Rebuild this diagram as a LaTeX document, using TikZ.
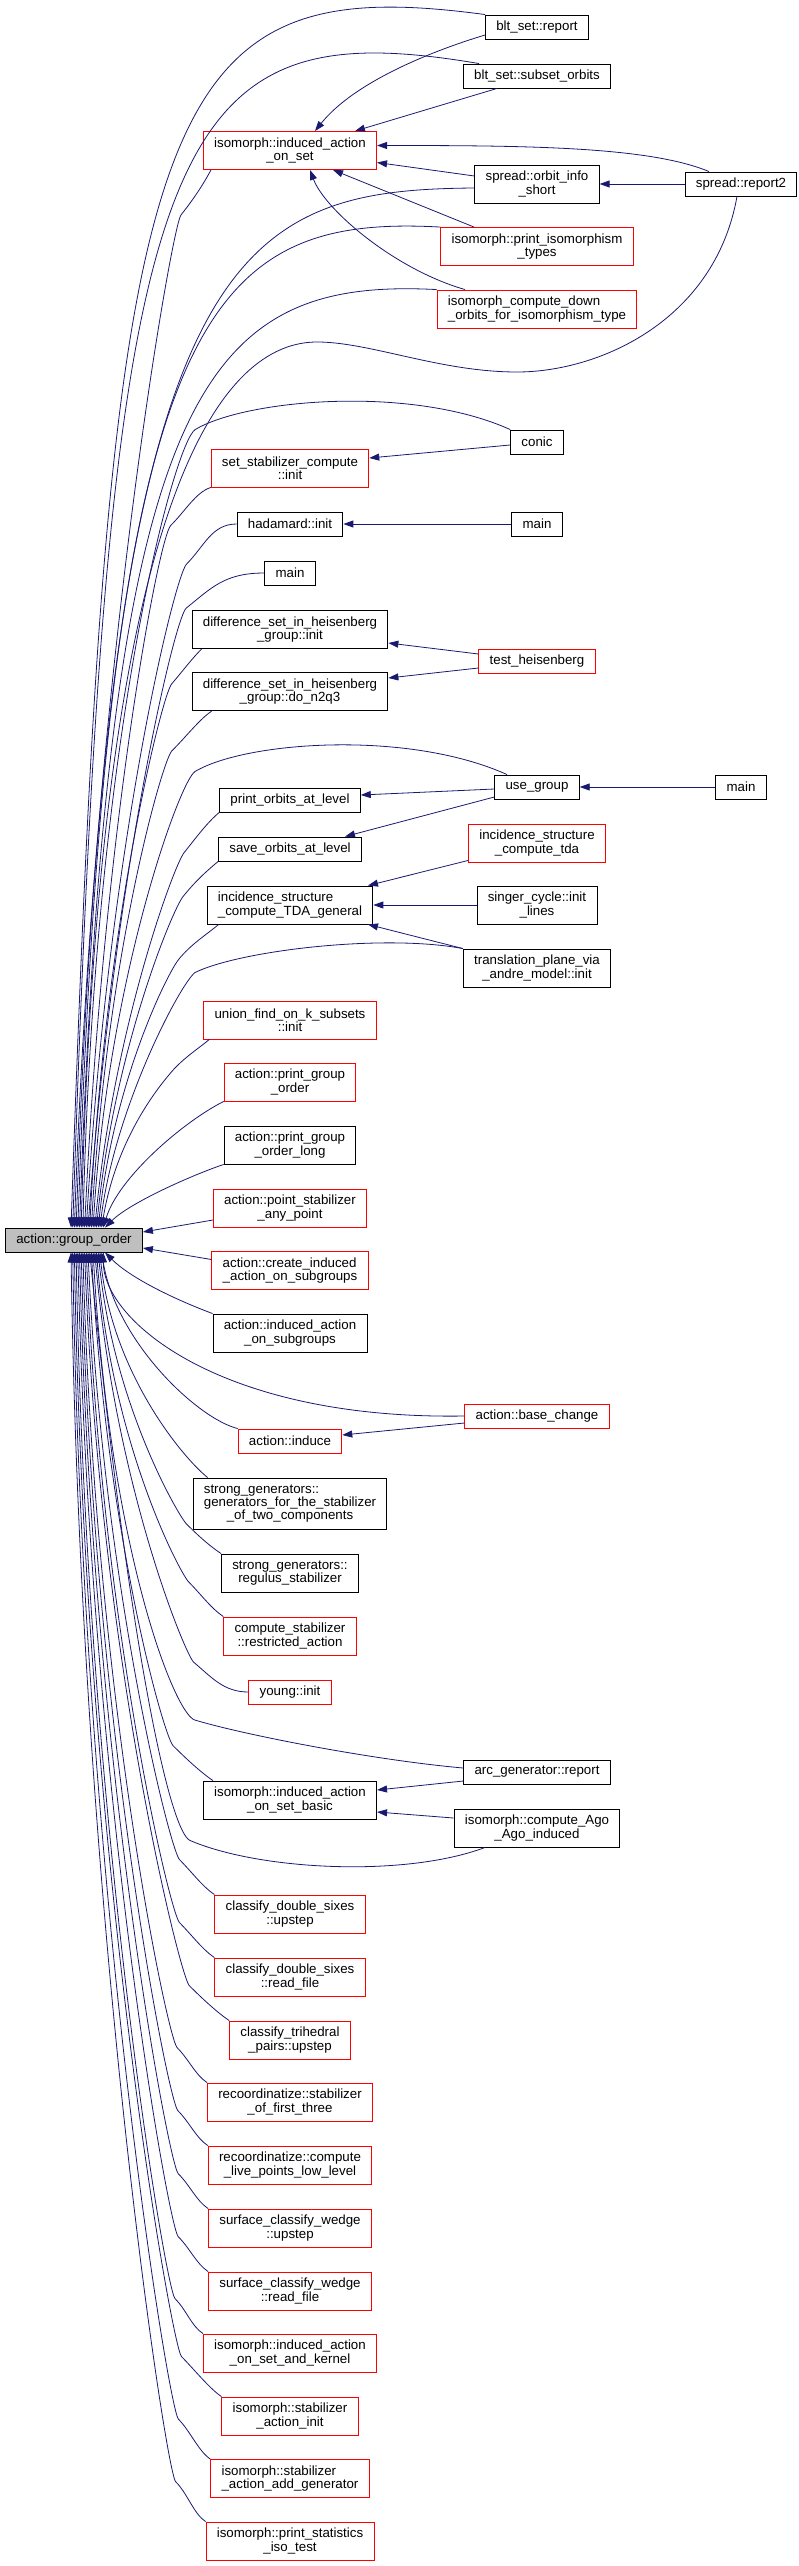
\documentclass[tikz,border=0pt]{standalone}
\usepackage{fontspec}
\setmainfont{Liberation Sans}
\usepackage{calc}
\usepackage{tikz}
\usetikzlibrary{arrows.meta}
\definecolor{edgeblue}{HTML}{191970}
\definecolor{rootgray}{HTML}{BFBFBF}

\begin{document}
\begin{tikzpicture}[x=1pt,y=-1pt,
  fn/.style={draw=black,line width=0.9pt,inner xsep=10.8pt,inner ysep=0pt,minimum height=24pt,
    font=\fontsize{13.3}{13.3}\selectfont,align=center},
  two/.style={minimum height=38pt},
  trunc/.style={draw=red},
  call/.style={draw=edgeblue,line width=0.8pt,-{Triangle[length=10pt,width=7pt]}}]
\useasboundingbox (0,0) rectangle (799,2566);

\node[fn] (bltr) at (537,27) {blt\_set::report};
\node[fn] (blts) at (537,76) {blt\_set::subset\_orbits};
\node[fn,two,trunc] (iaos) at (290,150.5) {isomorph::induced\_action\\\_on\_set};
\node[fn,two] (sois) at (537,184) {spread::orbit\_info\\\_short};
\node[fn] (sr2) at (741,184) {spread::report2};
\node[fn,two,trunc] (pit) at (537,246.5) {isomorph::print\_isomorphism\\\_types};
\node[fn,two,trunc,align=left] (icd) at (537,309) {isomorph\_compute\_down\\\_orbits\_for\_isomorphism\_type};
\node[fn] (conic) at (537,442) {conic};
\node[fn,two,trunc] (ssc) at (290,468) {set\_stabilizer\_compute\\::init};
\node[fn] (had) at (290,524) {hadamard::init};
\node[fn] (hmain) at (537,524) {main};
\node[fn] (main) at (290,573) {main};
\node[fn,two] (dsi) at (290,629.5) {difference\_set\_in\_heisenberg\\\_group::init};
\node[fn,trunc] (th) at (537,661) {test\_heisenberg};
\node[fn,two] (dsd) at (290,691.7) {difference\_set\_in\_heisenberg\\\_group::do\_n2q3};
\node[fn] (ug) at (537,787) {use\_group};
\node[fn] (ugmain) at (741,787) {main};
\node[fn] (pol) at (290,800) {print\_orbits\_at\_level};
\node[fn] (sol) at (290,849) {save\_orbits\_at\_level};
\node[fn,two,trunc] (ict) at (537,843) {incidence\_structure\\\_compute\_tda};
\node[fn,two,align=left] (tda) at (290,905) {incidence\_structure\\\_compute\_TDA\_general};
\node[fn,two] (sci) at (537,905) {singer\_cycle::init\\\_lines};
\node[fn,two] (tpa) at (537,968) {translation\_plane\_via\\\_andre\_model::init};
\node[fn,two,trunc] (uf) at (290,1020) {union\_find\_on\_k\_subsets\\::init};
\node[fn,two,trunc] (apgo) at (290,1082) {action::print\_group\\\_order};
\node[fn,two] (apgol) at (290,1145) {action::print\_group\\\_order\_long};
\node[fn,two,trunc] (aps) at (290,1208) {action::point\_stabilizer\\\_any\_point};
\node[fn,fill=rootgray] (g) at (74,1240) {action::group\_order};
\node[fn,two,trunc,align=left] (acia) at (290,1270.5) {action::create\_induced\\\_action\_on\_subgroups};
\node[fn,two] (aias) at (290,1333) {action::induced\_action\\\_on\_subgroups};
\node[fn,trunc] (abc) at (537,1416) {action::base\_change};
\node[fn,trunc] (ai) at (290,1441) {action::induce};
\node[fn,minimum height=51pt,align=left] (sgg) at (290,1503.5) {strong\_generators::\\generators\_for\_the\_stabilizer\\\makebox[\widthof{generators\_for\_the\_stabilizer}]{\_of\_two\_components}};
\node[fn,two] (sgr) at (290,1573) {strong\_generators::\\regulus\_stabilizer};
\node[fn,two,trunc] (csr) at (290,1636) {compute\_stabilizer\\::restricted\_action};
\node[fn,trunc] (yi) at (290,1692) {young::init};
\node[fn] (agr) at (537,1772) {arc\_generator::report};
\node[fn,two] (iasb) at (290,1800) {isomorph::induced\_action\\\_on\_set\_basic};
\node[fn,two] (icaa) at (537,1828) {isomorph::compute\_Ago\\\_Ago\_induced};
\node[fn,two,trunc] (cdsu) at (290,1914) {classify\_double\_sixes\\::upstep};
\node[fn,two,trunc] (cdsr) at (290,1977) {classify\_double\_sixes\\::read\_file};
\node[fn,two,trunc] (ctp) at (290,2040) {classify\_trihedral\\\_pairs::upstep};
\node[fn,two,trunc] (rsf) at (290,2102) {recoordinatize::stabilizer\\\_of\_first\_three};
\node[fn,two,trunc] (rcl) at (290,2165) {recoordinatize::compute\\\_live\_points\_low\_level};
\node[fn,two,trunc] (scwu) at (290,2228) {surface\_classify\_wedge\\::upstep};
\node[fn,two,trunc] (scwr) at (290,2291) {surface\_classify\_wedge\\::read\_file};
\node[fn,two,trunc] (iask) at (290,2353) {isomorph::induced\_action\\\_on\_set\_and\_kernel};
\node[fn,two,trunc] (isai) at (290,2416) {isomorph::stabilizer\\\_action\_init};
\node[fn,two,trunc,align=left] (isag) at (290,2478.5) {isomorph::stabilizer\\\_action\_add\_generator};
\node[fn,two,trunc] (ipst) at (290,2541) {isomorph::print\_statistics\\\_iso\_test};

% callers above action::group_order
\draw[call] (bltr.north west) .. controls +(-335,-45) and +(39,-1128) .. ([xshift=-3pt]g.north);
\draw[call] ([xshift=-58pt]blts.north) .. controls +(-319,-54) and +(37,-1098) .. ([xshift=-1.3pt]g.north);
\draw[call] ([xshift=8pt]iaos.south west) .. controls +(-8,15) and +(12,-15) .. ++(-30,45)
  .. controls +(-10,15) and +(19,-550) .. ([xshift=0.4pt]g.north);
\draw[call] ([yshift=-4pt]sois.west) .. controls +(-244,2) and +(34,-978) .. ([xshift=2.1pt]g.north);
\draw[call] (pit.north west) .. controls +(-240,-13) and +(32,-908) .. ([xshift=3.8pt]g.north);
\draw[call] (icd.north west) .. controls +(-236,-12) and +(30,-838) .. ([xshift=5.5pt]g.north);
\draw[call] ([xshift=-4pt]sr2.south) .. controls (715,320) and (600,372) .. (517,372)
  .. controls (440,372) and (370,342) .. (317,342)
  .. controls (225,342) and (100,480) .. ([xshift=7.2pt]g.north);
\draw[call] (conic.north west) .. controls +(-100,-45) and +(50,-30) .. ++(-315,0)
  .. controls +(-20,12) and +(12,-500) .. ([xshift=8.9pt]g.north);
\draw[call] (ssc.south west) .. controls +(-15,5) and +(15,-15) .. ++(-40,38)
  .. controls +(-12,12) and +(19,-400) .. ([xshift=10.6pt]g.north);
\draw[call] (had.west) .. controls +(-25,0) and +(18,-18) .. ++(-50,40)
  .. controls +(-12,12) and +(22,-380) .. ([xshift=12.3pt]g.north);
\draw[call] (main.west) .. controls +(-40,0) and +(25,-20) .. ++(-78,35)
  .. controls +(-12,10) and +(26,-350) .. ([xshift=14pt]g.north);
\draw[call] ([xshift=10pt]dsi.south west) .. controls +(-10,10) and +(12,-14) .. ++(-30,35)
  .. controls +(-10,12) and +(15,-300) .. ([xshift=15.7pt]g.north);
\draw[call] ([xshift=20pt]dsd.south west) .. controls +(-12,8) and +(15,-15) .. ++(-40,40)
  .. controls +(-10,12) and +(15,-270) .. ([xshift=17.4pt]g.north);
\draw[call] ([xshift=-30pt]ug.north) .. controls +(-100,-45) and +(50,-30) .. ++(-312,-3)
  .. controls +(-15,9) and +(15,-250) .. ([xshift=19.1pt]g.north);
\draw[call] (pol.south west) .. controls +(-12,10) and +(12,-15) .. ++(-35,40)
  .. controls +(-10,12) and +(19,-200) .. ([xshift=20.8pt]g.north);
\draw[call] (sol.south west) .. controls +(-12,10) and +(12,-15) .. ++(-35,35)
  .. controls +(-10,12) and +(18,-180) .. ([xshift=22.5pt]g.north);
\draw[call] ([xshift=12pt]tda.south west) .. controls +(-12,10) and +(12,-15) .. ++(-40,35)
  .. controls +(-10,12) and +(16,-150) .. ([xshift=24.2pt]g.north);
\draw[call] (tpa.north west) .. controls +(-80,-15) and +(45,-22) .. ++(-268,24)
  .. controls +(-15,12) and +(15,-120) .. ([xshift=25.9pt]g.north);
\draw[call] ([xshift=6pt]uf.south west) .. controls +(-12,10) and +(12,-15) .. ++(-40,35)
  .. controls +(-10,12) and +(15,-90) .. ([xshift=27.6pt]g.north);
\draw[call] (apgo.south west) .. controls +(-40,20) and +(15,-50) .. ([xshift=29.3pt]g.north);
\draw[call] (apgol.south west) .. controls +(-30,10) and +(25,-25) .. ([xshift=31pt]g.north);
\draw[call] ([yshift=-12pt]aps.west) -- ([yshift=8pt]g.east);
\draw[call] ([yshift=11pt]acia.west) -- ([yshift=-8pt]g.east);

% callers below action::group_order
\draw[call] (aias.north west) .. controls +(-40,-15) and +(25,25) .. ([xshift=31pt]g.south);
\draw[call] (abc.west) .. controls +(-244,4) and +(0,68) .. ([xshift=29.3pt]g.south);
\draw[call] (ai.north west) .. controls +(-40,-10) and +(15,90) .. ([xshift=27.6pt]g.south);
\draw[call] ([xshift=15pt]sgg.north west) .. controls +(-25,-20) and +(12,120) .. ([xshift=25.9pt]g.south);
\draw[call] (sgr.north west) .. controls +(-12,-8) and +(12,12) .. ++(-35,-30)
  .. controls +(-10,-12) and +(15,150) .. ([xshift=24.2pt]g.south);
\draw[call] (csr.north west) .. controls +(-12,-8) and +(12,12) .. ++(-35,-35)
  .. controls +(-10,-12) and +(15,190) .. ([xshift=22.5pt]g.south);
\draw[call] (yi.west) .. controls +(-25,0) and +(18,15) .. ++(-55,-30)
  .. controls +(-10,-12) and +(20,230) .. ([xshift=20.8pt]g.south);
\draw[call] ([yshift=4pt]agr.west) .. controls +(-90,-8) and +(50,15) .. ++(-268.5,-48)
  .. controls +(-20,-6) and +(17,300) .. ([xshift=19.1pt]g.south);
\draw[call] ([xshift=10pt]iasb.north west) .. controls +(-12,-8) and +(12,12) .. ++(-40,-35)
  .. controls +(-10,-12) and +(15,280) .. ([xshift=17.4pt]g.south);
\draw[call] ([xshift=-52pt]icaa.south) .. controls +(-80,30) and +(70,30) .. ++(-295,-7)
  .. controls +(-20,-9) and +(40,400) .. ([xshift=15.7pt]g.south);
\draw[call] (cdsu.north west) .. controls +(-12,-8) and +(12,12) .. ++(-35,-35)
  .. controls +(-10,-12) and +(15,330) .. ([xshift=14pt]g.south);
\draw[call] (cdsr.north west) .. controls +(-12,-8) and +(12,12) .. ++(-35,-35)
  .. controls +(-10,-12) and +(15,370) .. ([xshift=12.3pt]g.south);
\draw[call] (ctp.north west) .. controls +(-12,-8) and +(12,12) .. ++(-40,-35)
  .. controls +(-10,-12) and +(15,400) .. ([xshift=10.6pt]g.south);
\draw[call] (rsf.north west) .. controls +(-12,-8) and +(12,12) .. ++(-30,-35)
  .. controls +(-10,-12) and +(12,440) .. ([xshift=8.9pt]g.south);
\draw[call] (rcl.north west) .. controls +(-12,-8) and +(12,12) .. ++(-30,-35)
  .. controls +(-10,-12) and +(12,470) .. ([xshift=7.2pt]g.south);
\draw[call] (scwu.north west) .. controls +(-12,-8) and +(12,12) .. ++(-30,-35)
  .. controls +(-10,-12) and +(12,500) .. ([xshift=5.5pt]g.south);
\draw[call] (scwr.north west) .. controls +(-12,-8) and +(12,12) .. ++(-30,-35)
  .. controls +(-10,-12) and +(12,530) .. ([xshift=3.8pt]g.south);
\draw[call] (iask.north west) .. controls +(-12,-8) and +(12,12) .. ++(-28,-35)
  .. controls +(-10,-12) and +(10,560) .. ([xshift=2.1pt]g.south);
\draw[call] (isai.north west) .. controls +(-12,-8) and +(12,12) .. ++(-40,-40)
  .. controls +(-10,-12) and +(10,600) .. ([xshift=0.4pt]g.south);
\draw[call] (isag.north west) .. controls +(-12,-8) and +(12,12) .. ++(-32,-40)
  .. controls +(-10,-12) and +(10,630) .. ([xshift=-1.3pt]g.south);
\draw[call] (ipst.north west) .. controls +(-12,-8) and +(12,12) .. ++(-30,-40)
  .. controls +(-10,-12) and +(10,660) .. ([xshift=-3pt]g.south);

% other calls
\draw[call] ([yshift=-8pt]bltr.west) .. controls +(-50,15) and +(40,-50) .. ([xshift=25pt]iaos.north);
\draw[call] ([xshift=-40pt]blts.south) -- ([xshift=65pt]iaos.north);
\draw[call] ([xshift=-32pt]sr2.north) .. controls +(-60,-25) and +(150,0) .. ([yshift=5pt]iaos.east);
\draw[call] ([yshift=8pt]sois.west) -- ([yshift=-12pt]iaos.east);
\draw[call] (sr2.west) -- (sois.east);
\draw[call] ([xshift=-63pt]pit.north) -- ([xshift=43pt]iaos.south);
\draw[call] ([xshift=-72pt]icd.north) .. controls +(-70,-20) and +(15,40) .. ([xshift=20pt]iaos.south);
\draw[call] ([yshift=-3pt]conic.west) -- ([yshift=10pt]ssc.east);
\draw[call] (hmain.west) -- (had.east);
\draw[call] ([yshift=7pt]th.west) -- ([yshift=-13.5pt]dsi.east);
\draw[call] ([yshift=-7pt]th.west) -- ([yshift=13.7pt]dsd.east);
\draw[call] (ugmain.west) -- (ug.east);
\draw[call] ([yshift=-2pt]ug.west) -- ([yshift=5pt]pol.east);
\draw[call] ([yshift=-10pt]ug.west) -- ([xshift=55pt]sol.north);
\draw[call] ([yshift=2pt]ict.south west) -- ([xshift=78pt]tda.north);
\draw[call] (sci.west) -- (tda.east);
\draw[call] (tpa.north west) -- ([xshift=78pt]tda.south);
\draw[call] ([yshift=-7pt]abc.west) -- ([yshift=6pt]ai.east);
\draw[call] ([yshift=-9pt]agr.west) -- ([yshift=10pt]iasb.east);
\draw[call] ([yshift=10pt]icaa.west) -- ([yshift=-12pt]iasb.east);
\end{tikzpicture}
\end{document}
